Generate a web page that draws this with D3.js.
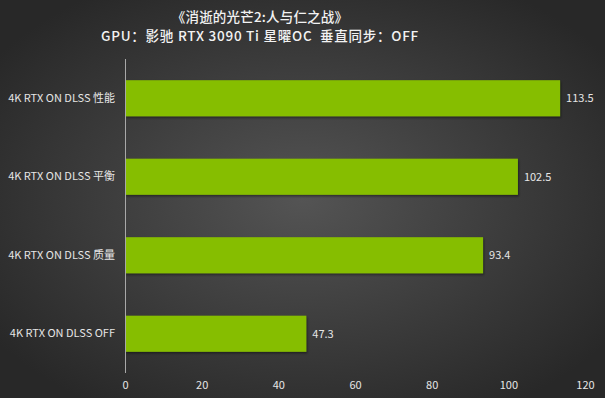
<!DOCTYPE html>
<html>
<head>
  <meta charset="utf-8">
  <title>消逝的光芒2 DLSS</title>
  <script src="https://d3js.org/d3.v7.min.js"></script>
  <style>
    html, body { margin: 0; padding: 0; background: #333; }
    svg { display: block; font-family: "Noto Sans CJK SC", "Noto Sans", sans-serif; }
  </style>
</head>
<body>
  <div id="chart"></div>
  <script>
    var titleLines = ['《消逝的光芒2:人与仁之战》', 'GPU：影驰 RTX 3090 Ti 星曜OC  垂直同步：OFF'];
    var categories = ['4K RTX ON DLSS 性能', '4K RTX ON DLSS 平衡', '4K RTX ON DLSS 质量', '4K RTX ON DLSS OFF'];
    var values = [113.5, 102.5, 93.4, 47.3];
    var xTicks = [0, 20, 40, 60, 80, 100, 120];

    var width = 605, height = 398,
        margin = {top: 59, right: 20, bottom: 25, left: 125};

    var svg = d3.select('#chart').append('svg')
        .attr('width', width)
        .attr('height', height);

    var defs = svg.append('defs');
    var grad = defs.append('radialGradient')
        .attr('id', 'bg')
        .attr('cx', '50%').attr('cy', '50%').attr('r', '62%');
    grad.append('stop').attr('offset', '0%').attr('stop-color', '#545454');
    grad.append('stop').attr('offset', '100%').attr('stop-color', '#282828');

    var shadow = defs.append('filter').attr('id', 'shadow')
        .attr('x', '-5%').attr('y', '-10%').attr('width', '110%').attr('height', '130%');
    shadow.append('feDropShadow')
        .attr('dx', 1).attr('dy', 1.5).attr('stdDeviation', 0.8)
        .attr('flood-color', '#000').attr('flood-opacity', 0.45);

    svg.append('rect')
        .attr('width', width).attr('height', height)
        .attr('fill', 'url(#bg)');

    var x = d3.scaleLinear()
        .domain([0, 120])
        .range([margin.left, margin.left + 460]);

    var y = d3.scaleBand()
        .domain(categories)
        .range([margin.top, height - margin.bottom - 0])
        .paddingInner(0.54)
        .paddingOuter(0.27);

    // title
    svg.append('g').selectAll('text')
        .data(titleLines)
        .enter().append('text')
          .attr('x', 260)
          .attr('y', function(d, i) { return 21.5 + i * 19; })
          .attr('text-anchor', 'middle')
          .attr('fill', '#f2f2f2')
          .attr('font-size', 13.5)
          .attr('font-weight', 500)
          .attr('letter-spacing', function(d, i) { return i ? 0.75 : 0.2; })
          .style('white-space', 'pre')
          .text(function(d) { return d; });

    // bars
    svg.append('g').selectAll('rect')
        .data(values)
        .enter().append('rect')
          .attr('x', x(0))
          .attr('y', function(d, i) { return y(categories[i]); })
          .attr('width', function(d) { return x(d) - x(0); })
          .attr('height', y.bandwidth())
          .attr('fill', '#86be00')
          .attr('filter', 'url(#shadow)');

    // value labels
    svg.append('g').selectAll('text')
        .data(values)
        .enter().append('text')
          .attr('x', function(d) { return x(d) + 6; })
          .attr('y', function(d, i) { return y(categories[i]) + y.bandwidth() / 2; })
          .attr('dy', '0.35em')
          .attr('fill', '#e6e6e6')
          .attr('font-size', 11)
          .text(function(d) { return d; });

    // y axis
    var yAxis = svg.append('g')
        .attr('transform', 'translate(' + x(0) + ',0)')
        .call(d3.axisLeft(y).tickSize(0).tickPadding(10));
    yAxis.select('.domain')
        .attr('stroke', '#a8a8a8')
        .attr('d', 'M0.5,' + margin.top + 'V' + 373);
    yAxis.selectAll('text')
        .attr('fill', '#e6e6e6')
        .attr('font-size', 11)
        .attr('font-family', '"Noto Sans CJK SC", "Noto Sans", sans-serif');

    // x axis (labels only)
    var xAxis = svg.append('g')
        .attr('transform', 'translate(0,' + 373 + ')')
        .call(d3.axisBottom(x).tickValues(xTicks).tickSize(0).tickPadding(8));
    xAxis.select('.domain').remove();
    xAxis.selectAll('text')
        .attr('fill', '#e6e6e6')
        .attr('font-size', 11)
        .attr('font-family', '"Noto Sans CJK SC", "Noto Sans", sans-serif');
  </script>
</body>
</html>
